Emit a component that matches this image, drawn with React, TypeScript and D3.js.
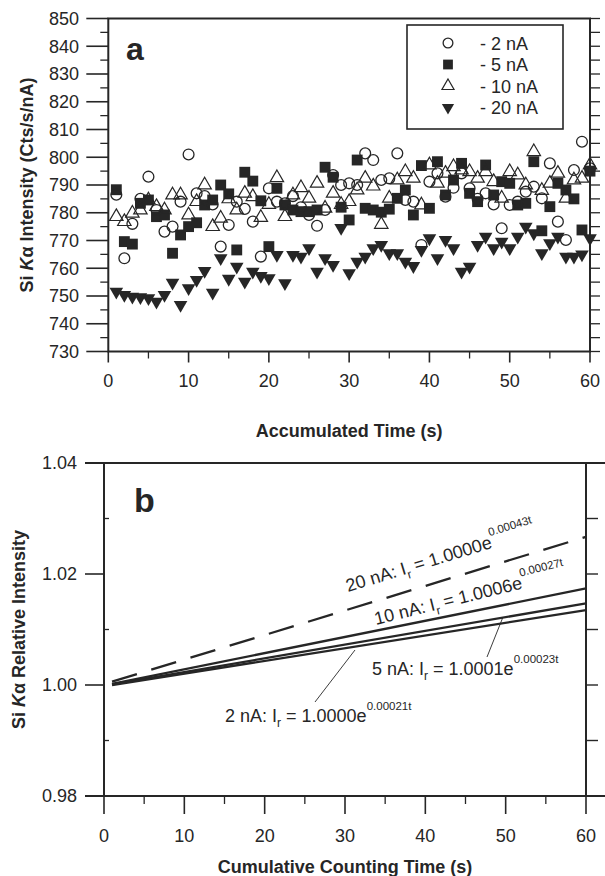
import React from 'react';
import * as d3 from 'd3';

// ---------- Panel a data (Si Kα intensity, cts/s/nA) ----------
const TIMES_A = d3.range(1, 61);
const SERIES_LABELS = ['- 2 nA', '- 5 nA', '- 10 nA', '- 20 nA'];
const SI_2NA = [786.5, 763.6, 776, 785, 793, 781, 773.2, 775, 784, 801, 787, 786, 783, 767.8, 775.6, 784, 781.4, 776.8, 764.2, 788.8, 784, 783.4, 786, 782, 779.2, 775.3, 781, 793.6, 790, 790.6, 790, 801.4, 799, 791.8, 792.4, 801.4, 784.6, 784, 768.4, 791.2, 794.2, 785.8, 789, 794.2, 788.8, 785, 787, 783, 774.4, 782.8, 784, 787.6, 789.4, 785.2, 797.8, 776.8, 770.2, 795.4, 805.6, 796];
const SI_5NA = [788.3, 769.6, 768.7, 783.4, 784.6, 778.6, 779.2, 765.4, 772, 775, 776.4, 782.8, 784.6, 790, 786.8, 766.6, 794.6, 791.4, 784.3, 767.8, 788.8, 782.8, 781, 780.4, 780.4, 781, 796.4, 792.8, 782, 777.4, 799, 781.6, 781, 780.2, 781.3, 785.2, 788.2, 779.2, 797, 781.6, 798.4, 786.4, 791.8, 797.8, 787, 784, 797.2, 786.4, 791.2, 790.6, 782.8, 783.4, 798.4, 773.5, 782.2, 790.6, 788.2, 785, 773.8, 795];
const SI_10NA = [778.6, 776.8, 779.8, 781, 784.6, 782.2, 781, 786.4, 786.4, 779.2, 784, 790, 775, 778, 785, 781, 787, 785.8, 778.3, 783, 792.6, 778.6, 786.4, 789, 785.2, 790.6, 781.6, 787, 783, 784, 788.2, 792.4, 789.6, 775.8, 785.2, 791.8, 794.8, 792.4, 782.8, 797.2, 790.6, 794.2, 796.6, 795.4, 794.8, 792.4, 794.8, 791.2, 785.2, 794.8, 793.6, 790, 802, 788, 790.6, 794.2, 785.2, 791.8, 792.4, 797.2];
const SI_20NA = [751.6, 750.4, 749.8, 749.6, 749.2, 748, 750.4, 754.8, 746.8, 752.8, 755.8, 759, 751.2, 763.6, 756.2, 760.6, 755.2, 758.8, 757.2, 756.4, 764.8, 754.6, 764.8, 764.2, 767.2, 758.8, 763.6, 761.2, 774.5, 758.2, 762.4, 764.2, 767.2, 768.4, 765.4, 765.4, 762.4, 760.8, 766.6, 770.8, 763.6, 770.2, 767.2, 758.8, 760.6, 768.4, 771.4, 767.2, 769.6, 767.2, 771.4, 775, 772.6, 765.4, 769, 771.4, 764.2, 764.2, 765, 770.8];
const Y_TICKS_A = [730, 740, 750, 760, 770, 780, 790, 800, 810, 820, 830, 840, 850];
const X_TICKS = [0, 10, 20, 30, 40, 50, 60];

// ---------- Panel b data (fitted relative intensity lines) ----------
const FIT_LABELS = ['20 nA', '10 nA', '5 nA', '2 nA'];
const FIT_T = [1, 60];
const FIT_START = [1.0006, 1.0002, 1.0001, 1.0];
const FIT_END = [1.0267, 1.0174, 1.0147, 1.0135];
const FIT_A = ['1.0000', '1.0006', '1.0001', '1.0000'];
const FIT_K = ['0.00043t', '0.00027t', '0.00023t', '0.00021t'];
const Y_TICKS_B = [0.98, 1.0, 1.02, 1.04];

const FONT = '"Liberation Sans", Arial, Helvetica, sans-serif';
const INK = '#262626';

type Kind = 'circle' | 'square' | 'tri' | 'tridown';
const KINDS: Kind[] = ['circle', 'square', 'tri', 'tridown'];

function Marker({ kind, x, y, s = 1 }: { kind: Kind; x: number; y: number; s?: number }) {
  if (kind === 'circle') {
    const p = d3.symbol(d3.symbolCircle, 92 * s * s)();
    return <path d={p || ''} transform={`translate(${x},${y})`} fill="none" stroke={INK} strokeWidth={1.3} />;
  }
  if (kind === 'square') {
    const p = d3.symbol(d3.symbolSquare, 118 * s * s)();
    return <path d={p || ''} transform={`translate(${x},${y})`} fill={INK} />;
  }
  if (kind === 'tri') {
    const p = d3.symbol(d3.symbolTriangle, 78 * s * s)();
    return <path d={p || ''} transform={`translate(${x},${y})`} fill="none" stroke={INK} strokeWidth={1.2} />;
  }
  const p = d3.symbol(d3.symbolTriangle, 80 * s * s)();
  return <path d={p || ''} transform={`translate(${x},${y}) rotate(180)`} fill={INK} />;
}

export default function App() {
  // panel a scales
  const xA = d3.scaleLinear().domain([0, 60]).range([108.3, 590]);
  const yA = d3.scaleLinear().domain([730, 850]).range([351.5, 18.5]);
  // panel b scales
  const xB = d3.scaleLinear().domain([0, 60]).range([104, 586]);
  const yB = d3.scaleLinear().domain([0.98, 1.04]).range([796, 463]);

  const seriesA = [SI_2NA, SI_5NA, SI_10NA, SI_20NA];
  const drawOrder = [1, 3, 2, 0];

  const line = d3
    .line<[number, number]>()
    .x((d) => xB(d[0]))
    .y((d) => yB(d[1]));

  const ax0 = xA(0), ax1 = xA(60), ay0 = yA(730), ay1 = yA(850);
  const bx0 = xB(0), bx1 = xB(60), by0 = yB(0.98), by1 = yB(1.04);

  const minorA = d3.range(735, 850, 10);
  const rightA = d3.range(730, 851, 5);
  const minorXA = d3.range(5, 60, 10);
  const minorB = [0.99, 1.01, 1.03];
  const rightB = [0.98, 0.99, 1.0, 1.01, 1.02, 1.03, 1.04];

  const labelPos = [
    { x: 348, y: 592, rot: -17 },
    { x: 376, y: 625, rot: -14 },
    { x: 372, y: 675, rot: 0 },
    { x: 225, y: 722, rot: 0 },
  ];

  return (
    <svg
      width={605}
      height={876}
      style={{ position: 'absolute', left: 0, top: 0, background: '#fff' }}
      fontFamily={FONT}
    >
      <rect x={0} y={0} width={605} height={876} fill="#fff" />
      {/* ================= Panel a ================= */}
      <g>
        <rect x={ax0} y={ay1} width={ax1 - ax0} height={ay0 - ay1} fill="none" stroke={INK} strokeWidth={2} />
        {Y_TICKS_A.map((v) => (
          <line key={'yl' + v} x1={ax0 - 22} x2={ax0} y1={yA(v)} y2={yA(v)} stroke={INK} strokeWidth={1.6} />
        ))}
        {minorA.map((v) => (
          <line key={'ym' + v} x1={ax0 - 8} x2={ax0} y1={yA(v)} y2={yA(v)} stroke={INK} strokeWidth={1.3} />
        ))}
        {rightA.map((v) => (
          <line key={'yr' + v} x1={ax1} x2={ax1 + 10} y1={yA(v)} y2={yA(v)} stroke={INK} strokeWidth={1.3} />
        ))}
        {X_TICKS.map((t) => (
          <line key={'xt' + t} x1={xA(t)} x2={xA(t)} y1={ay0} y2={ay0 + 11} stroke={INK} strokeWidth={1.6} />
        ))}
        {minorXA.map((t) => (
          <line key={'xm' + t} x1={xA(t)} x2={xA(t)} y1={ay0} y2={ay0 + 7} stroke={INK} strokeWidth={1.3} />
        ))}
        {Y_TICKS_A.map((v) => (
          <text key={'ylt' + v} x={79} y={yA(v)} dy="0.36em" textAnchor="end" fontSize={18} fill={INK}>
            {v}
          </text>
        ))}
        {X_TICKS.map((t) => (
          <text key={'xlt' + t} x={xA(t)} y={387} textAnchor="middle" fontSize={18} fill={INK}>
            {t}
          </text>
        ))}
        <text x={(ax0 + ax1) / 2} y={437} textAnchor="middle" fontSize={18} fontWeight="bold" fill={INK}>
          Accumulated Time (s)
        </text>
        <text
          transform={`translate(33,${(ay0 + ay1) / 2}) rotate(-90)`}
          textAnchor="middle"
          fontSize={18}
          fontWeight="bold"
          fill={INK}
        >
          Si <tspan fontStyle="italic">K</tspan>α Intensity (Cts/s/nA)
        </text>
        <text x={126} y={60} fontSize={32} fontWeight="bold" fill={INK}>
          a
        </text>
        {drawOrder.map((si) => (
          <g key={'s' + si}>
            {seriesA[si].map((v, i) => (
              <Marker key={i} kind={KINDS[si]} x={xA(TIMES_A[i])} y={yA(v)} />
            ))}
          </g>
        ))}
        <rect x={407} y={25} width={156} height={104} fill="#fff" stroke={INK} strokeWidth={1.6} />
        {SERIES_LABELS.map((lab, i) => {
          const cy = 43 + i * 21.5;
          return (
            <g key={'lg' + i}>
              <Marker kind={KINDS[i]} x={448} y={cy} s={0.9} />
              <text x={480} y={cy + 6.5} fontSize={18} fill={INK}>
                {lab}
              </text>
            </g>
          );
        })}
      </g>

      {/* ================= Panel b ================= */}
      <g>
        <rect x={bx0} y={by1} width={bx1 - bx0} height={by0 - by1} fill="none" stroke={INK} strokeWidth={2} />
        <line x1={bx0 - 19} x2={605} y1={by1} y2={by1} stroke={INK} strokeWidth={2} />
        <line x1={bx0 - 19} x2={605} y1={by0} y2={by0} stroke={INK} strokeWidth={2} />
        {Y_TICKS_B.map((v) => (
          <line key={'byl' + v} x1={bx0 - 19} x2={bx0} y1={yB(v)} y2={yB(v)} stroke={INK} strokeWidth={1.6} />
        ))}
        {minorB.map((v) => (
          <line key={'bym' + v} x1={bx0} x2={bx0 + 5} y1={yB(v)} y2={yB(v)} stroke={INK} strokeWidth={1.3} />
        ))}
        {rightB.map((v) => (
          <line key={'byr' + v} x1={bx1} x2={bx1 + 12} y1={yB(v)} y2={yB(v)} stroke={INK} strokeWidth={1.4} />
        ))}
        {X_TICKS.map((t) => (
          <line key={'bxt' + t} x1={xB(t)} x2={xB(t)} y1={by0} y2={by0 + 18} stroke={INK} strokeWidth={1.6} />
        ))}
        {minorXA.map((t) => (
          <line key={'bxm' + t} x1={xB(t)} x2={xB(t)} y1={by0} y2={by0 + 8} stroke={INK} strokeWidth={1.3} />
        ))}
        {Y_TICKS_B.map((v) => (
          <text key={'bylt' + v} x={77} y={yB(v)} dy="0.36em" textAnchor="end" fontSize={18} fill={INK}>
            {v.toFixed(2)}
          </text>
        ))}
        {X_TICKS.map((t) => (
          <text key={'bxlt' + t} x={xB(t)} y={842} textAnchor="middle" fontSize={18} fill={INK}>
            {t}
          </text>
        ))}
        <text x={(bx0 + bx1) / 2} y={873} textAnchor="middle" fontSize={18} fontWeight="bold" fill={INK}>
          Cumulative Counting Time (s)
        </text>
        <text
          transform={`translate(25,${(by0 + by1) / 2}) rotate(-90)`}
          textAnchor="middle"
          fontSize={18}
          fontWeight="bold"
          fill={INK}
        >
          Si <tspan fontStyle="italic">K</tspan>α Relative Intensity
        </text>
        <text x={134} y={512} fontSize={34} fontWeight="bold" fill={INK}>
          b
        </text>
        {FIT_LABELS.map((lab, i) => (
          <path
            key={'fl' + i}
            d={line([
              [FIT_T[0], FIT_START[i]],
              [FIT_T[1], FIT_END[i]],
            ]) || ''}
            fill="none"
            stroke={INK}
            strokeWidth={2.3}
            strokeDasharray={i === 0 ? '26,15' : undefined}
          />
        ))}
        <line x1={315} y1={702} x2={355} y2={650} stroke={INK} strokeWidth={0.9} />
        <line x1={487} y1={657} x2={503} y2={617} stroke={INK} strokeWidth={0.9} />
        {FIT_LABELS.map((lab, i) => {
          const p = labelPos[i];
          return (
            <text
              key={'eq' + i}
              transform={`translate(${p.x},${p.y}) rotate(${p.rot})`}
              fontSize={18}
              fill={INK}
            >
              {lab}: I
              <tspan fontSize={12} dy={5}>
                r
              </tspan>
              <tspan dy={-5}>{` = ${FIT_A[i]}e`}</tspan>
              <tspan fontSize={11.5} dy={-12}>
                {FIT_K[i]}
              </tspan>
            </text>
          );
        })}
      </g>
    </svg>
  );
}
